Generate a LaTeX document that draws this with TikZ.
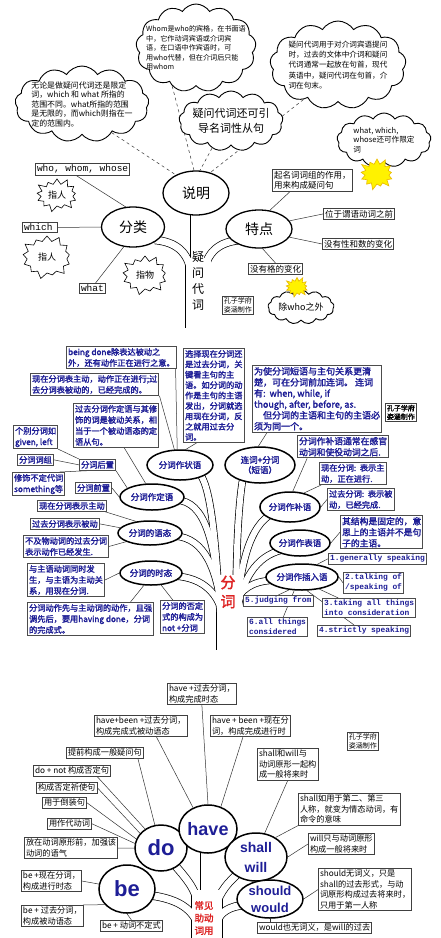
\documentclass[tikz,border=0pt]{standalone}
\usepackage{fontspec}
\setmainfont{Noto Sans CJK SC}[AutoFakeBold=2]
\setmonofont{Liberation Mono}
\newfontfamily\headfont{Liberation Sans}
\usetikzlibrary{shapes.symbols, shapes.geometric, backgrounds, positioning, calc}
\definecolor{MyBlue}{HTML}{1E1E96}
\definecolor{MyRed}{HTML}{DD2222}
\definecolor{MyYellow}{HTML}{FFF200}
\definecolor{MyGold}{HTML}{E8B800}
\tikzset{
	note/.style={draw=black!75, line width=0.8pt, fill=white, inner sep=1.6pt, align=left, anchor=north west, font=\fontsize{8.5}{10.5}\selectfont},
	bnote/.style={note, draw=black!70, line width=1pt, text=MyBlue, font=\bfseries\fontsize{8.2}{11}\selectfont},
	bmono/.style={bnote, font=\ttfamily\bfseries\fontsize{7.9}{10}\selectfont},
	wnote/.style={note, font=\fontsize{8.2}{10.5}\selectfont},
	oval/.style={ellipse, draw, line width=1.3pt, fill=white, inner sep=0pt, align=center},
	boval/.style={oval, line width=1.5pt, text=MyBlue, font=\bfseries\fontsize{8.5}{10}\selectfont},
	hoval/.style={oval, line width=1.5pt, text=MyBlue, font=\headfont\bfseries\fontsize{22}{22}\selectfont},
	puff/.style={cloud, cloud puffs=13, cloud puff arc=115, cloud ignores aspect, draw, line width=0.9pt, fill=white, inner sep=0pt},
	burst/.style={starburst, starburst points=13, starburst point height=7pt, draw, line width=0.6pt, fill=white, inner sep=0pt, font=\fontsize{9}{10}\selectfont},
	sun/.style={burst, fill=MyYellow, draw=MyGold},
	link/.style={line width=0.5pt, black!80},
	dlink/.style={link, dashed},
	rib/.style={line width=#1},
}
\newcommand\treeribbons{%
	% panel 1
	\draw[rib=25pt] (198,258) -- (198,328);
	\draw[rib=13pt] (197,205) -- (197,262);
	\draw[rib=7pt] (155,240) .. controls (176,242) and (188,252) .. (191,272);
	\draw[rib=7pt] (240,240) .. controls (219,242) and (207,252) .. (204,272);
	% panel 2
	\draw[rib=25pt] (229,575) -- (229,650);
	\draw[rib=6pt] (200,474) .. controls (212,490) and (216,550) .. (220,612);
	\draw[rib=6pt] (176,500) .. controls (205,501) and (215,540) .. (221,612);
	\draw[rib=6pt] (175,536) .. controls (205,538) and (217,570) .. (222,612);
	\draw[rib=6pt] (175,576) .. controls (205,578) and (218,595) .. (223,615);
	\draw[rib=6pt] (243,478) .. controls (238,505) and (236,560) .. (236,612);
	\draw[rib=6pt] (272,514) .. controls (250,525) and (240,565) .. (237,612);
	\draw[rib=6pt] (282,550) .. controls (256,556) and (242,580) .. (237,612);
	\draw[rib=6pt] (280,580) .. controls (258,580) and (245,585) .. (236,600);
	% panel 3
	\draw[rib=30pt] (207,890) -- (207,945);
	\draw[rib=13pt] (207,845) -- (207,900);
	\draw[rib=7pt] (172,862) .. controls (188,880) and (196,890) .. (198,905);
	\draw[rib=7pt] (148,895) .. controls (172,898) and (188,905) .. (196,920);
	\draw[rib=7pt] (240,872) .. controls (228,882) and (220,892) .. (216,905);
	\draw[rib=7pt] (245,905) .. controls (230,906) and (220,912) .. (217,922);
}

\begin{document}
\begin{tikzpicture}[x=1pt, y=-1pt]
\useasboundingbox (0,0) rectangle (440,938);

% ---- panel 1
\node[puff, minimum width=134pt, minimum height=76pt] (cloudrange) at (82,104) {};
\node[font=\fontsize{7.9}{9.5}\selectfont, align=left] (cloudrangetxt) at (cloudrange) {无论是做疑问代词还是限定\\词，which 和 what 所指的\\范围不同。what所指的范围\\是无限的，而which则指在一\\定的范围内。};
\node[puff, minimum width=120pt, minimum height=88pt] (cloudwhom) at (196,48) {};
\node[font=\fontsize{7.1}{9.6}\selectfont, align=left] (cloudwhomtxt) at (cloudwhom) {Whom是who的宾格，在书面语\\中，它作动词宾语或介词宾\\语，在口语中作宾语时，可\\用who代替，但在介词后只能\\用whom};
\node[puff, minimum width=136pt, minimum height=88pt] (cloudprep) at (338,65) {};
\node[font=\fontsize{7.6}{10.2}\selectfont, align=left] (cloudpreptxt) at (cloudprep) {疑问代词用于对介词宾语提问\\时，过去的文体中介词和疑问\\代词通常一起放在句首，现代\\英语中，疑问代词在句首，介\\词在句末。};
\node[puff, minimum width=104pt, minimum height=60pt] (cloudclause) at (231,121) {};
\node[font=\fontsize{11}{15.5}\selectfont, align=center] (cloudclausetxt) at (cloudclause) {疑问代词还可引\\导名词性从句};
\node[puff, minimum width=94pt, minimum height=54pt] (cloudwhose) at (384,140) {};
\node[font=\fontsize{7.6}{9.6}\selectfont, align=left] (cloudwhosetxt) at (cloudwhose) {what, which,\\whose还可作限定\\词};
\node[sun, minimum width=38pt, minimum height=34pt] (sunwhose) at (377,174) {};
\node[puff, minimum width=66pt, minimum height=34pt] (cloudwho) at (301,307) {};
\node[font=\fontsize{9}{10}\selectfont] (cloudwhotxt) at (cloudwho) {除who之外};
\node[sun, minimum width=26pt, minimum height=22pt, starburst point height=5pt] (sunwho) at (297,287) {};

\node[oval, minimum width=66pt, minimum height=44pt, font=\fontsize{14}{14}\selectfont] (explain) at (196,193) {说明};
\node[oval, minimum width=63pt, minimum height=40pt, font=\fontsize{14}{14}\selectfont] (classes) at (133,227) {分类};
\node[oval, minimum width=66pt, minimum height=38pt, font=\fontsize{14}{14}\selectfont] (features) at (259,229) {特点};
\node[font=\fontsize{12}{16}\selectfont, align=center] (trunkone) at (198,281) {疑\\问\\代\\词};

\node[note, font=\ttfamily\fontsize{9.5}{11}\selectfont] (who) at (35,163) {who, whom, whose};
\node[burst, minimum width=46pt, minimum height=36pt] (personA) at (57,195) {指人};
\node[note, font=\ttfamily\fontsize{9.5}{11}\selectfont] (which) at (22,222) {which\,\,};
\node[burst, minimum width=54pt, minimum height=46pt] (personB) at (47,257) {指人};
\node[note, font=\ttfamily\fontsize{9.5}{11}\selectfont] (what) at (79,283) {what};
\node[burst, minimum width=50pt, minimum height=42pt] (thing) at (145,275) {指物};

\node[note] (role) at (272,169) {起名词词组的作用，\\用来构成疑问句};
\node[note] (front) at (323,208) {位于谓语动词之前};
\node[note] (nogender) at (322,238) {没有性和数的变化};
\node[note] (nocase) at (248,263) {没有格的变化};
\node[note, line width=0.6pt, font=\fontsize{7}{8.5}\selectfont] (creditA) at (222,296) {孔子学府\\姿涵制作};

% ---- panel 2
\node[bnote] (beingdone) at (66,346) {being done除表达被动之\\外，还有动作正在进行之意。};
\node[bnote] (present) at (30,373) {现在分词表主动，动作正在进行;过\\去分词表被动的，已经完成的。};
\node[bnote] (attrib) at (73,403) {过去分词作定语与其修\\饰的词是被动关系，相\\当于一个被动语态的定\\语从句。};
\node[bnote] (given) at (13,425) {个别分词如\\given, left};
\node[bnote] (phrase) at (17,454) {分词词组};
\node[bnote] (post) at (79,459) {分词后置};
\node[bnote] (indef) at (12,472) {修饰不定代词\\something等};
\node[bnote] (pre) at (75,482) {分词前置};
\node[bnote, font=\bfseries\fontsize{8.2}{10.4}\selectfont] (choose) at (183,348) {选择现在分词还\\是过去分词，关\\键看主句的主\\语。如分词的动\\作是主句的主语\\发出，分词就选\\用现在分词，反\\之就用过去分\\词。};
\node[bnote, font=\bfseries\fontsize{9}{11}\selectfont] (conjbox) at (252,365) {为使分词短语与主句关系更清\\楚，可在分词前加连词。 连词\\有:\ \ when, while, if\\though, after, before, as.\\\hspace{1em}但分词的主语和主句的主语必\\须为同一个。};
\node[note, line width=0.6pt, font=\bfseries\fontsize{7}{8.5}\selectfont] (creditB) at (385,403) {孔子学府\\姿涵制作};
\node[bnote, font=\bfseries\fontsize{8.8}{11}\selectfont] (compbox) at (297,435) {分词作补语通常在感官\\动词和使役动词之后.};
\node[bnote] (prescomp) at (319,462) {现在分词:\ \ 表示主\\动，正在进行.};
\node[bnote] (pastcomp) at (327,488) {过去分词:\ \ 表示被\\动，已经完成.};
\node[bnote, font=\bfseries\fontsize{8.8}{11}\selectfont] (fixed) at (340,515) {其结构是固定的，意\\思上的主语并不是句\\子的主语。};
\node[bmono] (gen) at (328,553) {1.generally speaking};
\node[bmono] (talk) at (343,572) {2.talking of\\/speaking of};
\node[bmono] (taking) at (322,598) {3.taking all things\\into consideration};
\node[bmono] (judging) at (243,595) {5.judging from};
\node[bmono] (allthings) at (247,617) {6.all things\\considered};
\node[bmono] (strictly) at (317,625) {4.strictly speaking};
\node[bnote] (actbox) at (37,500) {现在分词表示主动};
\node[bnote] (pasbox) at (30,518) {过去分词表示被动};
\node[bnote] (intrans) at (23,535) {不及物动词的过去分词\\表示动作已经发生.};
\node[bnote] (same) at (27,563) {与主语动词同时发\\生，与主语为主动关\\系，用现在分词.};
\node[bnote] (earlier) at (27,602) {分词动作先与主动词的动作，且强\\调先后，要用having done，分词\\的完成式。};
\node[bnote] (negform) at (160,600) {分词的否定\\式的构成为\\not +分词};

\node[boval, minimum width=66pt, minimum height=30pt] (adv) at (180,465) {分词作状语};
\node[boval, minimum width=70pt, minimum height=36pt] (conj) at (260,465) {连词+分词\\（短语）};
\node[boval, minimum width=64pt, minimum height=26pt] (attr) at (152,497) {分词作定语};
\node[boval, minimum width=64pt, minimum height=24pt] (voice) at (150,533) {分词的语态};
\node[boval, minimum width=62pt, minimum height=24pt] (tense) at (151,573) {分词的时态};
\node[boval, minimum width=60pt, minimum height=30pt] (comp) at (290,507) {分词作补语};
\node[boval, minimum width=60pt, minimum height=26pt] (pred) at (300,543) {分词作表语};
\node[boval, minimum width=64pt, minimum height=26pt] (paren) at (302,577) {分词作插入语};
\node[text=MyRed, font=\bfseries\fontsize{15}{19}\selectfont, align=center] (fenci) at (228,592) {分\\词};

% ---- panel 3
\node[wnote] (haveperf) at (167,683) {have +过去分词，\\构成完成时态};
\node[wnote] (havepass) at (94,715) {have+been +过去分词，\\构成完成式被动语态};
\node[wnote] (haveprog) at (210,715) {have + been +现在分\\词，构成完成进行时};
\node[wnote] (question) at (66,747) {提前构成一般疑问句};
\node[wnote] (donot) at (33,765) {do + not 构成否定句};
\node[wnote] (imper) at (36,782) {构成否定祈使句};
\node[wnote] (invert) at (42,797) {用于倒装句};
\node[wnote] (proverb) at (47,818) {用作代动词};
\node[wnote] (emph) at (24,837) {放在动词原形前，加强该\\动词的语气};
\node[wnote] (beprog) at (21,870) {be +现在分词，\\构成进行时态};
\node[wnote] (bepass) at (21,905) {be + 过去分词，\\构成被动语态};
\node[wnote] (beinf) at (100,920) {be + 动词不定式};
\node[note, line width=0.6pt, font=\fontsize{7}{8.5}\selectfont] (creditC) at (347,732) {孔子学府\\姿涵制作};
\node[wnote] (shallwill) at (257,748) {shall和will与\\动词原形一起构\\成一般将来时};
\node[wnote] (shallcmd) at (298,793) {shall如用于第二、第三\\人称，就变为情态动词，有\\命令的意味};
\node[wnote] (willonly) at (308,833) {will只与动词原形\\构成一般将来时};
\node[wnote] (shouldbox) at (318,868) {should无词义，只是\\shall的过去形式，与动\\词原形构成过去将来时，\\只用于第一人称};
\node[wnote] (wouldbox) at (257,922) {would也无词义，是will的过去};

\node[hoval, minimum width=52pt, minimum height=46pt] (ovdo) at (161,848) {do};
\node[hoval, minimum width=54pt, minimum height=48pt, font=\headfont\bfseries\fontsize{18}{18}\selectfont] (ovhave) at (208,829) {have};
\node[hoval, minimum width=56pt, minimum height=48pt] (ovbe) at (127,889) {be};
\node[hoval, minimum width=62pt, minimum height=48pt, font=\headfont\bfseries\fontsize{14}{20}\selectfont] (ovshall) at (256,857) {shall\\will};
\node[hoval, minimum width=66pt, minimum height=38pt, font=\headfont\bfseries\fontsize{13}{17}\selectfont] (ovshould) at (270,899) {should\\would};
\node[text=MyRed, font=\bfseries\fontsize{9.5}{12.5}\selectfont, align=center] (aux) at (204,918) {常见\\助动\\词用};

% ---- tree and connectors
\begin{scope}[on background layer]
	\fill[white] (0,0) rectangle (440,938);
\end{scope}
\begin{scope}[on background layer, rib/.style={line width=#1+1.4pt, draw=black}]
	\treeribbons
\end{scope}
\begin{scope}[on background layer, rib/.style={line width=#1, draw=white}]
	\treeribbons
\end{scope}
\begin{scope}[on background layer]
	\draw[dlink] (cloudrange.-44) -- (explain.138);
	\draw[dlink] (cloudwhom.-122) -- (explain.95);
	\draw[dlink] (cloudclause.-125) -- (explain.80);
	\draw[dlink] (cloudprep.-135) -- (explain.55);
	\draw[link] (who.-135) -- (classes.110);
	\draw[link] (which.east) -- (classes.west);
	\draw[link] (what.60) -- (classes.-115);
	\draw[link] (features.60) -- (role.-153);
	\draw[link] (features.15) -- (front.west);
	\draw[link] (features.-15) -- (nogender.west);
	\draw[link] (features.-80) -- (nocase.north);
	%
	\draw[link] (beingdone.-12) -- (adv.100);
	\draw[link] (present.-10) -- (adv.110);
	\draw[link] (choose.-110) -- (adv.70);
	\draw[link] (attrib.-70) -- (attr.115);
	\draw[link] (given.south east) -- (post.north west);
	\draw[link] (phrase.east) -- (post.west);
	\draw[link] (indef.30) -- (post.210);
	\draw[link] (post.south east) -- (attr.160);
	\draw[link] (pre.east) -- (attr.west);
	\draw[link] (conjbox.-146) -- (conj.95);
	\draw[link] (compbox.-162) -- (comp.80);
	\draw[link] (prescomp.-160) -- (comp.45);
	\draw[link] (pastcomp.west) -- (comp.east);
	\draw[link] (fixed.west) -- (pred.east);
	\draw[link] (gen.west) -- (paren.40);
	\draw[link] (talk.west) -- (paren.east);
	\draw[link] (taking.162) -- (paren.-35);
	\draw[link] (judging.north) -- (paren.-135);
	\draw[link] (allthings.60) -- (paren.-120);
	\draw[link] (strictly.150) -- (paren.-70);
	\draw[link] (actbox.-10) -- (voice.140);
	\draw[link] (pasbox.east) -- (voice.170);
	\draw[link] (intrans.east) -- (voice.200);
	\draw[link] (same.east) -- (tense.west);
	\draw[link] (earlier.23) -- (tense.-120);
	\draw[link] (negform.120) -- (tense.-50);
	%
	\draw[link] (haveperf.south) -- (ovhave.north);
	\draw[link] (havepass.-35) -- (ovhave.125);
	\draw[link] (haveprog.-124) -- (ovhave.60);
	\draw[link] (question.-10) -- (ovdo.105);
	\draw[link] (donot.-13) -- (ovdo.130);
	\draw[link] (imper.east) -- (ovdo.145);
	\draw[link] (invert.east) -- (ovdo.160);
	\draw[link] (proverb.east) -- (ovdo.170);
	\draw[link] (emph.east) -- (ovdo.west);
	\draw[link] (beprog.east) -- (ovbe.170);
	\draw[link] (bepass.20) -- (ovbe.215);
	\draw[link] (beinf.north) -- (ovbe.south);
	\draw[link] (shallwill.south) -- (ovshall.70);
	\draw[link] (shallcmd.south west) -- (ovshall.45);
	\draw[link] (willonly.west) -- (ovshall.east);
	\draw[link] (shouldbox.west) -- (ovshould.east);
	\draw[link] (ovshould.south) -- (ovshould.south |- wouldbox.north);
\end{scope}
\end{tikzpicture}
\end{document}
